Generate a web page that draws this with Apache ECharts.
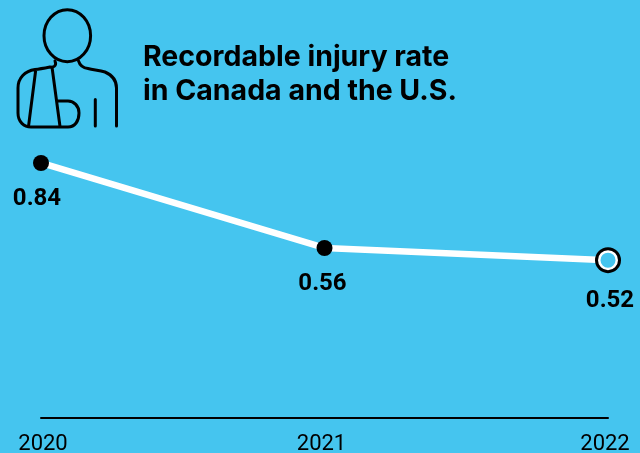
<!DOCTYPE html>
<html><head><meta charset="utf-8">
<script src="https://cdn.jsdelivr.net/npm/echarts@6/dist/echarts.min.js"></script>
<style>html,body{margin:0;padding:0;background:#45c5ef}#c{width:640px;height:453px}</style>
</head><body><div id="c"></div>
<script>
const years = ['2020','2021','2022'];
const rate = [0.84,0.56,0.52];
const highlightYear = [null,null,0.52];
const titleText = 'Recordable injury rate\nin Canada and the U.S.';
const blue = '#45c5ef';
const iconPath = 'M55 61C57 66 53 68 50 67C45 68 40 69 35 69.5C25 71 18 78 18 88L18 113C18 122 24 127 31 127L68 127C75 127 79 121 79 113C79 106 74 101 68 101L57.5 101M35.8 69.5L28.5 126.5M52 67L60 126.5M78.5 60.8C80 66 84 68 88 68.5C95 70 100 70.5 105 72C112 75 116.5 80 116.5 88L116.5 126M95.3 99.5L95.3 126';
echarts.graphic.registerShape('armIcon', echarts.graphic.extendPath(iconPath, {}));
const chart = echarts.init(document.getElementById('c'));
const offs = [[-4,11],[-2,11],[2,16]];
const yearStyle = {a:{padding:[0,0,0,4]},b:{padding:[0,6,0,0]},c:{padding:[0,6,0,0]}};
for (const k in yearStyle) Object.assign(yearStyle[k],{color:'#000',fontFamily:'Roboto',fontSize:22});
chart.setOption({
  animation:false,
  backgroundColor:blue,
  grid:{left:41,right:32,top:114.4,height:303.6,outerBoundsMode:'none'},
  title:{text:titleText,left:143,top:40,padding:0,textStyle:{fontFamily:'Inter',fontWeight:700,fontSize:28.5,color:'#000',lineHeight:34}},
  xAxis:{type:'category',data:years,boundaryGap:false,
    axisLine:{lineStyle:{color:'#000',width:2}},axisTick:{show:false},
    axisLabel:{margin:15,hideOverlap:false,showMinLabel:true,showMaxLabel:true,rich:yearStyle,
      formatter:(v,i)=>'{'+'abc'[i]+'|'+v+'}'}},
  yAxis:{type:'value',min:0,max:1,show:false,splitLine:{show:false}},
  graphic:[
    {type:'ellipse',shape:{cx:67.3,cy:35.7,rx:23.3,ry:26},style:{fill:null,stroke:'#000',lineWidth:3}},
    {type:'armIcon',style:{fill:null,stroke:'#000',lineWidth:3,lineCap:'round',lineJoin:'round'}}
  ],
  series:[
    {type:'line',data:rate.map((v,i)=>({value:v,label:{offset:offs[i]}})),lineStyle:{color:'#fff',width:6.5},
      symbol:'circle',symbolSize:16,itemStyle:{color:'#000'},
      label:{show:true,position:'bottom',color:'#000',fontFamily:'Roboto',fontWeight:700,fontSize:24,formatter:p=>p.value.toFixed(2)}},
    {type:'line',data:highlightYear,lineStyle:{width:0},symbol:'circle',symbolSize:26,itemStyle:{color:'#000'},z:3},
    {type:'line',data:highlightYear,lineStyle:{width:0},symbol:'circle',symbolSize:17.5,itemStyle:{color:blue,borderColor:'#fff',borderWidth:2.5},z:4}
  ]
});
</script></body></html>
